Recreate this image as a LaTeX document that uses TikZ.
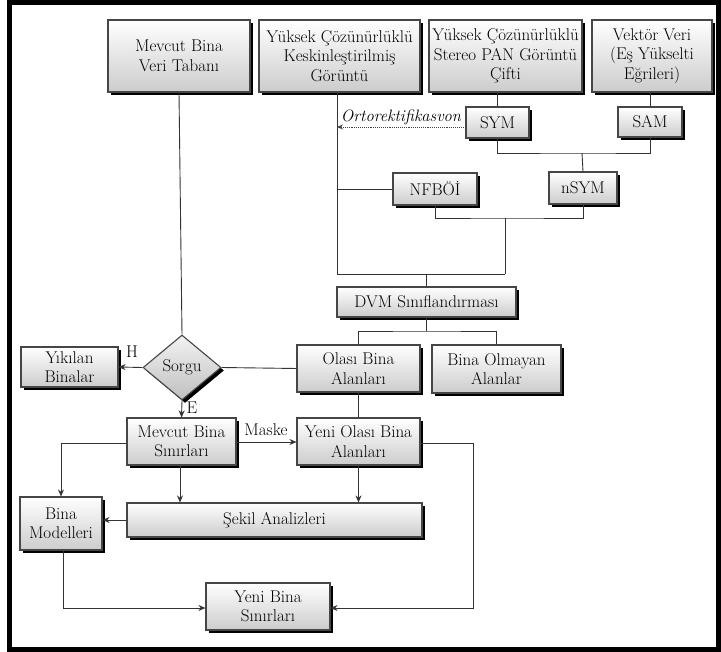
\documentclass[tikz,border=0pt]{standalone}
\usepackage{fontspec}
\usetikzlibrary{shapes.geometric,shadows,arrows.meta}
\begin{document}
\begin{tikzpicture}[x=1pt,y=-1pt,
  txt/.style={font=\fontsize{17}{19.5}\selectfont, text=black},
  box/.style={txt, draw=gray!55!black, line width=1.1pt, top color=white, bottom color=gray!40,
    align=center, inner sep=0pt,
    drop shadow={shadow xshift=3pt, shadow yshift=-3pt, fill=black, opacity=1}},
  conn/.style={draw=black!80, line width=0.9pt},
  arr/.style={conn, -{Stealth[length=7pt,width=6pt]}},
  lbl/.style={txt, inner sep=1pt}
]
\useasboundingbox (0,0) rectangle (721,652);
\draw[line width=4.5pt, black] (9.5,2.5) rectangle (718.5,649.5);

% top row
\node[box, minimum width=142pt, minimum height=72pt] (mvt) at (179,56) {Mevcut Bina\\Veri Tabanı};
\node[box, minimum width=161pt, minimum height=72pt] (kesk) at (339.5,56) {Yüksek Çözünürlüklü\\Keskinleştirilmiş\\Görüntü};
\node[box, minimum width=153pt, minimum height=72pt] (stereo) at (505.5,56) {Yüksek Çözünürlüklü\\Stereo PAN Görüntü\\Çifti};
\node[box, minimum width=120pt, minimum height=72pt] (vektor) at (652,56) {Vektör Veri\\(Eş Yükselti\\Eğrileri)};

\node[box, minimum width=63pt, minimum height=31pt] (sym) at (497.5,122.5) {SYM};
\node[box, minimum width=64pt, minimum height=30pt] (sam) at (650,122) {SAM};
\node[box, minimum width=68pt, minimum height=32pt] (nsym) at (583,188) {nSYM};
\node[box, minimum width=84pt, minimum height=32pt] (nfb) at (435,189) {NFBÖİ};
\node[box, minimum width=179pt, minimum height=30pt] (dvm) at (426.5,302) {DVM Sınıflandırması};

\node[box, minimum width=123pt, minimum height=47pt] (olasi) at (358.5,368.5) {Olası Bina\\Alanları};
\node[box, minimum width=129pt, minimum height=48pt] (olmayan) at (496.5,369) {Bina Olmayan\\Alanlar};
\node[box, shape=diamond, top color=gray!10, bottom color=gray!50, minimum width=78pt, minimum height=65pt] (sorgu) at (182,367.5) {Sorgu};
\node[box, minimum width=97pt, minimum height=40pt] (yikilan) at (69.5,367) {Yıkılan\\Binalar};

\node[box, minimum width=109pt, minimum height=47pt] (mevs) at (181.5,441.5) {Mevcut Bina\\Sınırları};
\node[box, minimum width=123pt, minimum height=47pt] (yenio) at (358.5,441.5) {Yeni Olası Bina\\Alanları};
\node[box, minimum width=295pt, minimum height=34pt] (sekil) at (274.5,520) {Şekil Analizleri};
\node[box, minimum width=82pt, minimum height=53pt] (binam) at (61,523.5) {Bina\\Modelleri};
\node[box, minimum width=124pt, minimum height=47pt] (yenib) at (268,606.5) {Yeni Bina\\Sınırları};

% junction coordinates
\coordinate (kbot) at (337,274);
\coordinate (kmid) at (337,189);
\coordinate (kort) at (337,127);
\coordinate (jr) at (505,274);
\coordinate (jn) at (505,218);
\coordinate (ss) at (582,153);

% top connectors
\draw[conn] (mvt.south) -- (sorgu.north);
\draw[conn] (kesk.south -| kbot) -- (kbot) -- (jr);
\draw[conn] (nfb.west) -- (kmid);
\draw[conn] (stereo.south -| sym.north) -- (sym.north);
\draw[conn] (vektor.south -| sam.north) -- (sam.north);
\draw[conn] (sym.south) |- (ss) -| (sam.south);
\draw[conn] (ss) -- (nsym.north);
\draw[conn] (nfb.south) |- (jn) -| (nsym.south);
\draw[conn] (jn) -- (jr);
\draw[conn] (dvm.north) -- (dvm.north |- kbot);
\draw[black!75, line width=0.9pt, densely dotted, -{Stealth[length=6pt,width=5pt]}] (sym.west |- kort) -- (kort);
\node[lbl, font=\fontsize{16.5}{19}\selectfont\itshape, anchor=south] (orto) at (401,126) {Ortorektifikasvon};

% DVM split
\coordinate (dsplit) at (426.5,331);
\draw[conn] (dvm.south) -- (dsplit);
\draw[conn] (olasi.north) |- (dsplit) -| (olmayan.north);

% sorgu
\draw[conn] (sorgu.east) -- (olasi.west);
\draw[arr] (sorgu.west) -- (yikilan.east);
\node[lbl] (hl) at (132,352) {H};
\draw[arr] (sorgu.south) -- (mevs.north);
\node[lbl] (el) at (192,408) {E};

% lower
\draw[conn] (olasi.south) -- (yenio.north);
\draw[arr] (mevs.east |- 0,442) -- (yenio.west |- 0,442);
\node[lbl] (maske) at (266,430) {Maske};
\draw[arr] (mevs.south -| 180,0) -- (sekil.north -| 180,0);
\draw[arr] (yenio.south) -- (sekil.north -| yenio.south);
\draw[arr] (mevs.west |- 0,443) -| (binam.north);
\draw[arr] (sekil.west) -- (binam.east |- sekil.west);
\coordinate (bl) at (63,608);
\draw[arr] (binam.south -| bl) -- (bl) -- (yenib.west |- bl);
\coordinate (rr) at (473,608);
\draw[arr] (yenio.east |- 0,443) -| (rr) -- (yenib.east |- rr);
\end{tikzpicture}
\end{document}
